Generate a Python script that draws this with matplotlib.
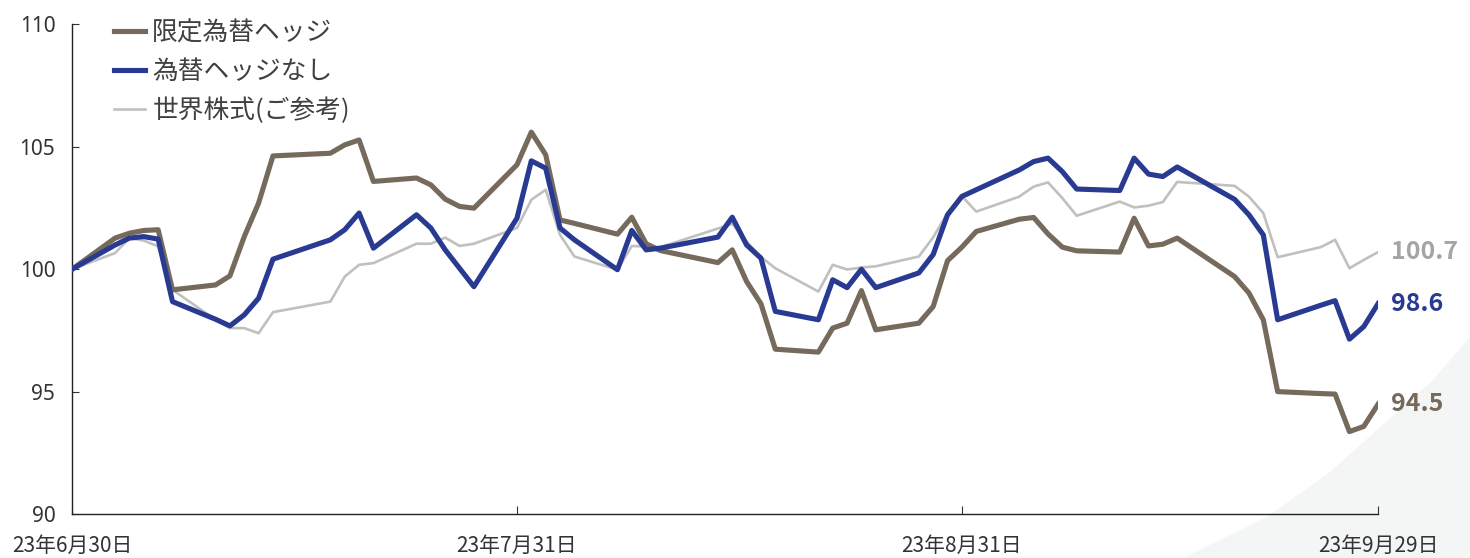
import numpy as np
import pandas as pd
import matplotlib
matplotlib.use("Agg")
import matplotlib.pyplot as plt
from matplotlib.patches import Polygon

plt.rcParams['font.family'] = ['Noto Sans CJK JP', 'DejaVu Sans']

# Japanese business days, 2023-06-30 .. 2023-09-29 (holidays removed)
holidays = ['2023-07-17', '2023-08-11', '2023-09-18']
dates = pd.bdate_range('2023-06-30', '2023-09-29', freq='C', holidays=holidays)

hedged = [
    100.0, 101.27, 101.47, 101.58, 101.61, 99.16, 99.36, 99.73, 101.33, 102.70, 104.62,
    104.73, 105.07, 105.27, 103.58, 103.72, 103.44, 102.86, 102.56, 102.49, 104.26,
    105.59, 104.67, 102.01, 101.87, 101.43, 102.12, 101.04, 100.76,
    100.27, 100.79, 99.50, 98.59, 96.74,
    96.62, 97.60, 97.80, 99.13, 97.53,
    97.80, 98.48, 100.35, 100.90,
    101.54, 102.04, 102.11, 101.44, 100.90, 100.75,
    100.70, 102.08, 100.95, 101.02, 101.27,
    99.70, 99.03, 97.94, 95.01,
    94.93, 94.91, 93.38, 93.59, 94.5,
]
unhedged = [
    100.0, 100.99, 101.27, 101.33, 101.23, 98.68, 97.96, 97.69, 98.14, 98.82, 100.41,
    101.20, 101.61, 102.29, 100.86, 102.22, 101.68, 100.79, 100.04, 99.29, 102.08,
    104.42, 104.12, 101.68, 101.20, 99.98, 101.58, 100.79, 100.86,
    101.31, 102.12, 100.99, 100.45, 98.28,
    97.94, 99.57, 99.25, 100.00, 99.25,
    99.85, 100.60, 102.22, 102.97,
    103.24, 104.05, 104.39, 104.53, 103.98, 103.27,
    103.21, 104.53, 103.88, 103.78, 104.17,
    102.85, 102.22, 101.40, 97.94,
    98.53, 98.72, 97.15, 97.66, 98.6,
]
world = [
    100.0, 100.66, 101.27, 101.17, 100.93, 99.16, 97.94, 97.60, 97.60, 97.39, 98.25,
    98.68, 99.70, 100.18, 100.25, 101.04, 101.04, 101.29, 100.95, 101.04, 101.68,
    102.83, 103.24, 101.40, 100.52, 99.98, 100.95, 100.92, 100.90,
    101.66, 101.85, 101.13, 100.50, 100.04,
    99.09, 100.18, 99.99, 100.07, 100.12,
    100.52, 101.30, 102.30, 102.98,
    102.35, 102.96, 103.37, 103.54, 102.90, 102.18,
    102.76, 102.52, 102.59, 102.74, 103.56,
    103.40, 102.96, 102.29, 100.49,
    100.90, 101.20, 100.04, 100.38, 100.7,
]

names = ['限定為替ヘッジ', '為替ヘッジなし', '世界株式(ご参考)']
colors = ['#766a5d', '#283a91', '#c0c0c0']
label_colors = ['#766a5d', '#283a91', '#a5a5a5']

tick_dates = pd.to_datetime(['2023-06-30', '2023-07-31', '2023-08-31', '2023-09-29'])
tick_labels = ['23年6月30日', '23年7月31日', '23年8月31日', '23年9月29日']

fig = plt.figure(figsize=(14.7, 5.58), dpi=100)

# faint decorative wedge in the bottom-right corner
W, H = 1470, 558
deco = [(1183, 558), (1267, 517), (1330, 472), (1377, 430), (1433, 380), (1470, 337), (1470, 558)]
fig.patches.append(Polygon([(x / W, 1 - y / H) for x, y in deco], closed=True,
                           transform=fig.transFigure, facecolor='#f4f5f5',
                           edgecolor='none', zorder=-1))

ax = fig.add_axes([0.049, 0.078, 0.8885, 0.879])
ax.set_facecolor('none')

ax.plot(dates, world, color=colors[2], lw=1.9, label=names[2], zorder=2)
ax.plot(dates, hedged, color=colors[0], lw=3.7, label=names[0], zorder=3)
ax.plot(dates, unhedged, color=colors[1], lw=3.7, label=names[1], zorder=4)

# end labels
for vals, c in [(world, label_colors[2]), (unhedged, label_colors[1]), (hedged, label_colors[0])]:
    ax.annotate(f'{vals[-1]:.1f}', (dates[-1], vals[-1]), xytext=(9, 0),
                textcoords='offset points', va='center', ha='left',
                fontsize=18, color=c, fontweight='bold', annotation_clip=False)

ax.set_xlim(tick_dates[0], tick_dates[-1])
ax.set_ylim(90, 110)
ax.set_yticks([90, 95, 100, 105, 110])
ax.set_xticks(tick_dates)
ax.set_xticklabels(tick_labels)

for s in ['top', 'right']:
    ax.spines[s].set_visible(False)
for s in ['left', 'bottom']:
    ax.spines[s].set_linewidth(1.0)
    ax.spines[s].set_color('#222222')

ax.tick_params(axis='y', direction='in', length=5, pad=12, labelsize=15, colors='#333333')
ax.tick_params(axis='x', direction='in', length=6, pad=15, labelsize=15, colors='#333333')
for t in ax.get_yticklabels():
    t.set_family(['Noto Sans', 'DejaVu Sans'])

handles, labels = ax.get_legend_handles_labels()
order = [1, 2, 0]
leg = ax.legend([handles[i] for i in order], [labels[i] for i in order],
                loc='upper left', bbox_to_anchor=(0.032, 1.008), frameon=False,
                fontsize=18.5, handlelength=1.2, handletextpad=0.3,
                labelspacing=0.5, borderaxespad=0, borderpad=0)
for t in leg.get_texts():
    t.set_color('#404040')

fig.savefig('out.png', dpi=100)
